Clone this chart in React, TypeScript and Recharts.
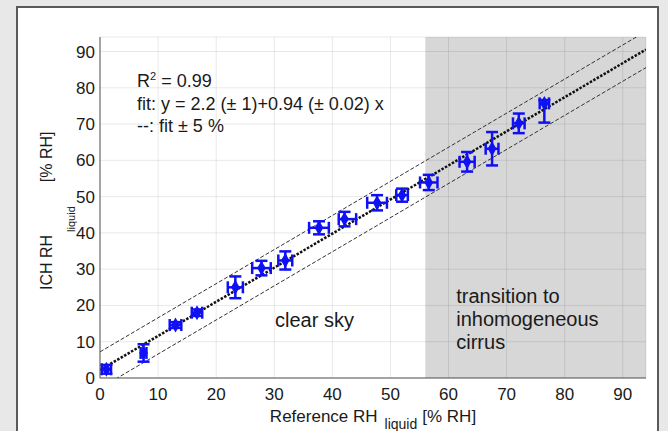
import React from "react";
import {
  ScatterChart, Scatter, XAxis, YAxis, ZAxis, CartesianGrid, ErrorBar,
  ReferenceArea, ReferenceLine, Label,
} from "recharts";

// reference RH (x) vs ICH RH (y), both in % RH, with their error bars
const REF_RH = [1.1, 7.5, 13.0, 16.7, 23.3, 27.8, 31.9, 37.7, 42.1, 47.7, 52.0, 56.6, 63.2, 67.5, 72.1, 76.5];
const ICH_RH = [2.4, 6.9, 14.6, 18.0, 25.0, 30.3, 32.4, 41.4, 43.8, 48.3, 50.4, 53.9, 59.6, 63.2, 70.2, 75.7];
const REF_ERR: (number | [number, number])[] = [0.8, 0.5, 1.0, 0.9, 1.3, 1.6, 1.2, 1.7, [1.0, 2.0], 1.7, 1.0, 1.5, 1.3, 1.1, 1.0, 0.8];
const ICH_ERR: (number | [number, number])[] = [1.2, 2.4, 0.8, 0.9, 3.0, 2.0, 2.5, 1.8, 2.0, 2.1, 1.8, 2.1, 2.7, 4.6, 2.7, [5.3, 0.9]];

// linear fit and the +-5 % band
const FIT_INTERCEPT = 2.2;
const FIT_SLOPE = 0.94;
const BAND = 5;

const X_MAX = 94;
const Y_MAX = 94;
const CIRRUS_FROM = 56;

const X_TICKS = [0, 10, 20, 30, 40, 50, 60, 70, 80, 90];
const X_MINOR = [2, 4, 6, 8, 12, 14, 16, 18, 22, 24, 26, 28, 32, 34, 36, 38, 42, 44, 46, 48,
  52, 54, 56, 58, 62, 64, 66, 68, 72, 74, 76, 78, 82, 84, 86, 88, 92];
const Y_TICKS = [0, 10, 20, 30, 40, 50, 60, 70, 80, 90];
const Y_MINOR = [5, 15, 25, 35, 45, 55, 65, 75, 85];

const FONT = "'Liberation Sans', Arial, Helvetica, sans-serif";
const INK = "#1a1a1a";
const BLUE = "#1010f5";
const FRAME = "#555";

const points = REF_RH.map((x, i) => ({ x, y: ICH_RH[i], ex: REF_ERR[i], ey: ICH_ERR[i] }));

const fitAt = (x: number, shift = 0) => FIT_INTERCEPT + shift + FIT_SLOPE * x;

const XTitle = ({ viewBox }: any) => {
  const { x, y, width } = viewBox;
  return (
    <text x={x + width / 2} y={y + 44} textAnchor="middle" fontFamily={FONT} fontSize={17} fill={INK}>
      Reference RH
      <tspan dx={7} dy={7} fontSize={14}>liquid</tspan>
      <tspan dx={5} dy={-7}>[% RH]</tspan>
    </text>
  );
};

const YTitle = ({ viewBox }: any) => {
  const { x, y } = viewBox;
  const bx = x + 2;
  const by = y + 253;
  return (
    <text x={bx} y={by} transform={`rotate(-90 ${bx} ${by})`} fontFamily={FONT} fontSize={16} fill={INK}>
      ICH RH
      <tspan dx={3} dy={23} fontSize={11}>liquid</tspan>
      <tspan dx={24} dy={-23}>[% RH]</tspan>
    </text>
  );
};

// text block in the clear-sky part of the plot
const ClearNotes = ({ viewBox }: any) => {
  const { x, y } = viewBox;
  return (
    <g fontFamily={FONT} fill={INK}>
      <text x={x + 37} y={y + 50} fontSize={18}>
        R<tspan dy={-7} fontSize={11}>2</tspan><tspan dy={7}>{" = 0.99"}</tspan>
      </text>
      <text x={x + 37} y={y + 73} fontSize={18}>{`fit: y = ${FIT_INTERCEPT} (± 1)+${FIT_SLOPE} (± 0.02) x`}</text>
      <text x={x + 37} y={y + 95} fontSize={18}>{`--: fit ± ${BAND} %`}</text>
      <text x={x + 175} y={y + 290} fontSize={20}>clear sky</text>
    </g>
  );
};

const CirrusNotes = ({ viewBox }: any) => {
  const { x, y } = viewBox;
  return (
    <g fontFamily={FONT} fill={INK} fontSize={20}>
      <text x={x + 31} y={y + 266}>transition to</text>
      <text x={x + 31} y={y + 289}>inhomogeneous</text>
      <text x={x + 31} y={y + 312}>cirrus</text>
    </g>
  );
};

const tickFont = { fill: INK, fontSize: 17, fontFamily: FONT };
const tickLn = { stroke: FRAME, strokeWidth: 1 };

export default function App() {
  return (
    <div style={{ position: "fixed", left: 0, top: 0, width: 668, height: 431, background: "#e8e8e8", overflow: "hidden" }}>
      <div style={{
        position: "absolute", left: 16, top: 6, width: 643, height: 440,
        background: "#fff", border: "2px solid #5a5a5a", boxSizing: "border-box",
      }} />
      <div style={{ position: "absolute", left: 0, top: 0 }}>
        <ScatterChart width={668} height={431} margin={{ top: 37, right: 22, bottom: 23, left: 50 }}>
          <CartesianGrid stroke="rgba(0,0,0,0.09)" strokeWidth={1} />

          {/* labelled axes */}
          <XAxis type="number" dataKey="x" domain={[0, X_MAX]} ticks={X_TICKS} interval={0}
            allowDataOverflow height={30} tick={tickFont} tickLine={false} tickSize={0} tickMargin={10}
            axisLine={{ stroke: FRAME }}>
            <Label content={XTitle} />
          </XAxis>
          <YAxis type="number" dataKey="y" domain={[0, Y_MAX]} ticks={Y_TICKS} interval={0}
            allowDataOverflow width={50} tick={tickFont} tickLine={false} tickSize={0} tickMargin={5}
            axisLine={{ stroke: FRAME }}>
            <Label content={YTitle} />
          </YAxis>
          <ZAxis range={[72, 72]} />

          {/* inward tick marks on all four sides */}
          <XAxis xAxisId="bMaj" type="number" domain={[0, X_MAX]} ticks={X_TICKS} interval={0} mirror height={0}
            tick={false} tickLine={tickLn} tickSize={5} axisLine={false} />
          <XAxis xAxisId="bMin" type="number" domain={[0, X_MAX]} ticks={X_MINOR} interval={0} mirror height={0}
            tick={false} tickLine={tickLn} tickSize={3} axisLine={false} />
          <XAxis xAxisId="tMaj" orientation="top" type="number" domain={[0, X_MAX]} ticks={X_TICKS} interval={0} mirror height={0}
            tick={false} tickLine={tickLn} tickSize={5} axisLine={{ stroke: FRAME }} />
          <XAxis xAxisId="tMin" orientation="top" type="number" domain={[0, X_MAX]} ticks={X_MINOR} interval={0} mirror height={0}
            tick={false} tickLine={tickLn} tickSize={3} axisLine={false} />
          <YAxis yAxisId="lMaj" type="number" domain={[0, Y_MAX]} ticks={Y_TICKS} interval={0} mirror width={0}
            tick={false} tickLine={tickLn} tickSize={5} axisLine={false} />
          <YAxis yAxisId="lMin" type="number" domain={[0, Y_MAX]} ticks={Y_MINOR} interval={0} mirror width={0}
            tick={false} tickLine={tickLn} tickSize={3} axisLine={false} />
          <YAxis yAxisId="rMaj" orientation="right" type="number" domain={[0, Y_MAX]} ticks={Y_TICKS} interval={0} mirror width={0}
            tick={false} tickLine={tickLn} tickSize={5} axisLine={{ stroke: FRAME }} />
          <YAxis yAxisId="rMin" orientation="right" type="number" domain={[0, Y_MAX]} ticks={Y_MINOR} interval={0} mirror width={0}
            tick={false} tickLine={tickLn} tickSize={3} axisLine={false} />

          <ReferenceArea x1={0} x2={CIRRUS_FROM} fill="none" fillOpacity={0} stroke="none" label={ClearNotes} />
          <ReferenceArea x1={CIRRUS_FROM} x2={X_MAX} fill="#000" fillOpacity={0.155} stroke="none" label={CirrusNotes} />

          <ReferenceLine segment={[{ x: 0, y: fitAt(0, BAND) }, { x: X_MAX, y: fitAt(X_MAX, BAND) }]}
            ifOverflow="hidden" stroke="#333" strokeWidth={1} strokeDasharray="4 2" />
          <ReferenceLine segment={[{ x: 0, y: fitAt(0, -BAND) }, { x: X_MAX, y: fitAt(X_MAX, -BAND) }]}
            ifOverflow="hidden" stroke="#333" strokeWidth={1} strokeDasharray="4 2" />
          <ReferenceLine segment={[{ x: 0, y: fitAt(0) }, { x: X_MAX, y: fitAt(X_MAX) }]}
            ifOverflow="hidden" stroke="#111" strokeWidth={2.5} strokeDasharray="2.5 1.5" />

          <Scatter data={points} fill={BLUE} shape="diamond" isAnimationActive={false}>
            <ErrorBar dataKey="ey" direction="y" width={6} stroke={BLUE} strokeWidth={2.5} isAnimationActive={false} />
            <ErrorBar dataKey="ex" direction="x" width={6} stroke={BLUE} strokeWidth={2.5} isAnimationActive={false} />
          </Scatter>
        </ScatterChart>
      </div>
    </div>
  );
}
